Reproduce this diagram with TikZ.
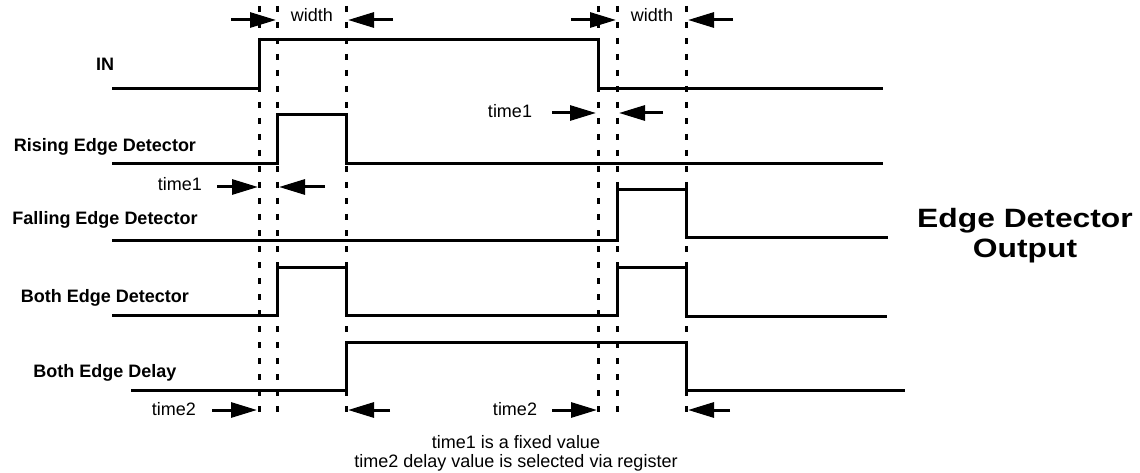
\documentclass[tikz,border=0pt]{standalone}
\usepackage{fontspec}
\setmainfont{Liberation Sans}
\newfontfamily\titlefont[FakeStretch=1.2]{Liberation Sans}
\usetikzlibrary{arrows.meta}

\tikzset{
  sig/.style={line width=3pt, line join=miter},
  guide/.style={line width=3pt, dash pattern=on 6pt off 10pt},
  dimarrow/.style={line width=3pt, -{Triangle[length=26pt,width=15pt]}},
  lbl/.style={font=\bfseries\fontsize{18}{20}\selectfont, anchor=base, inner sep=0pt},
  note/.style={font=\fontsize{18}{19}\selectfont, anchor=base, inner sep=0pt}
}

\begin{document}
\begin{tikzpicture}[x=1pt, y=-1pt]
	\useasboundingbox (0,0) rectangle (1140,473);

	% guide lines
	\foreach \x in {259,277,346,598,617,686}
		\draw [guide] (\x,6) -- (\x,414);

	% signals
	\node [lbl] (lblin) at (105,71) {IN};
	\draw [sig] (112,89) -- (259,89) -- (259,40) -- (598,40) -- (598,89) -- (883,89);

	\node [lbl] (lblrise) at (105,152) {Rising Edge Detector};
	\draw [sig] (112,164) -- (277,164) -- (277,115) -- (346,115) -- (346,164) -- (883,164);

	\node [lbl] (lblfall) at (105,224) {Falling Edge Detector};
	\draw [sig] (112,240) -- (617,240) -- (617,190) -- (686,190) -- (686,237) -- (888,237);

	\node [lbl] (lblboth) at (105,302) {Both Edge Detector};
	\draw [sig] (112,315) -- (277,315) -- (277,267) -- (346,267) -- (346,315)
		-- (617,315) -- (617,267) -- (686,267) -- (686,316) -- (887,316);

	\node [lbl] (lbldelay) at (105,377) {Both Edge Delay};
	\draw [sig] (131,390) -- (346,390) -- (346,342) -- (686,342) -- (686,390) -- (905,390);

	% width
	\node [note] (wida) at (312,22) {width};
	\draw [dimarrow] (231,20) -- (276,20);
	\draw [dimarrow] (393,20) -- (348,20);
	\node [note] (widb) at (652,22) {width};
	\draw [dimarrow] (571,20) -- (616,20);
	\draw [dimarrow] (733,20) -- (688,20);

	% time1
	\node [note] (tonea) at (180,190) {time1};
	\draw [dimarrow] (217,187) -- (258,187);
	\draw [dimarrow] (325,187) -- (279,187);
	\node [note] (toneb) at (510,118) {time1};
	\draw [dimarrow] (552,113) -- (596,113);
	\draw [dimarrow] (663,113) -- (619,113);

	% time2
	\node [note] (ttwoa) at (174,415) {time2};
	\draw [dimarrow] (212,410) -- (257,410);
	\draw [dimarrow] (390,410) -- (348,410);
	\node [note] (ttwob) at (515,415) {time2};
	\draw [dimarrow] (552,410) -- (597,410);
	\draw [dimarrow] (730,410) -- (688,410);

	\node [note] (notea) at (516,448) {time1 is a fixed value};
	\node [note] (noteb) at (516,467) {time2 delay value is selected via register};

	\node [anchor=base, inner sep=0pt, font=\titlefont\bfseries\fontsize{26.5}{30}\selectfont] (titlea) at (1025,227) {Edge Detector};
	\node [anchor=base, inner sep=0pt, font=\titlefont\bfseries\fontsize{26.5}{30}\selectfont] (titleb) at (1025,257) {Output};
\end{tikzpicture}
\end{document}
